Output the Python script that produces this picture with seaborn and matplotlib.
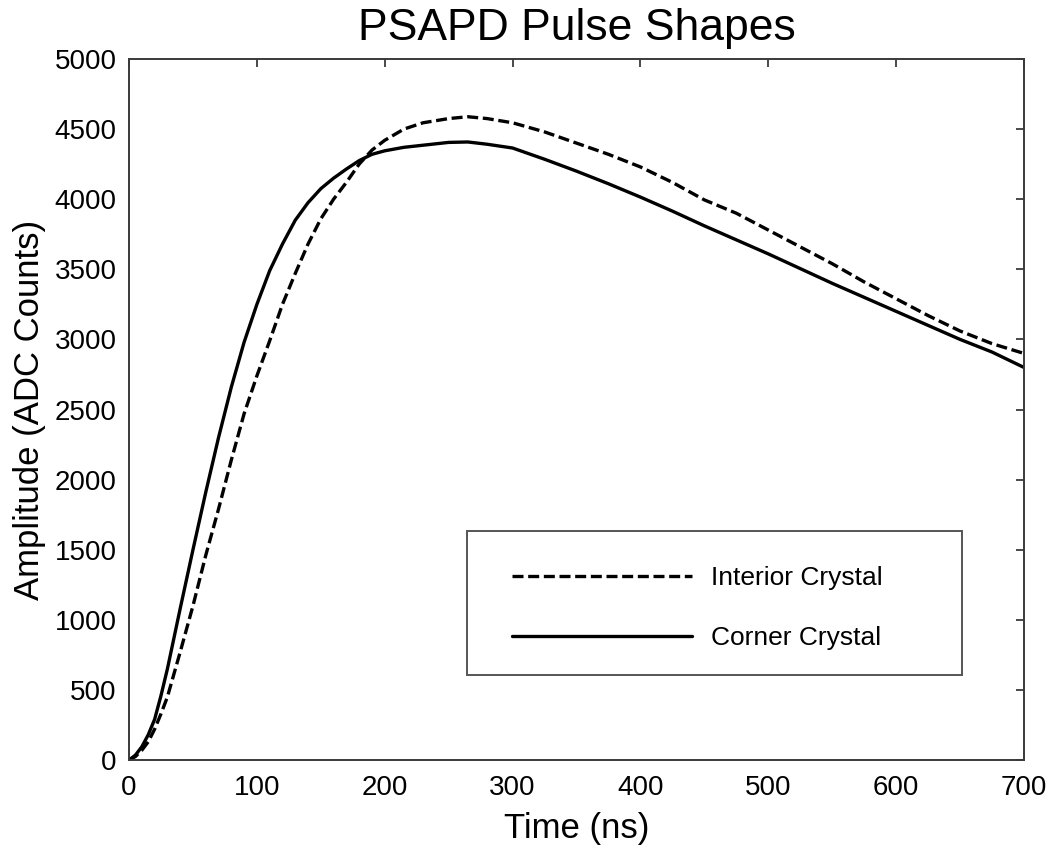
import matplotlib
matplotlib.use("Agg")
import matplotlib.pyplot as plt
from matplotlib.patches import Rectangle
import seaborn as sns
import pandas as pd

# ---- data ----
time_ns = [0, 5, 10, 15, 20, 25, 30, 40, 50, 60, 70, 80, 90, 100, 110, 120, 130,
           140, 150, 160, 170, 180, 190, 200, 215, 230, 250, 265, 280, 300, 325,
           350, 375, 400, 425, 450, 475, 500, 525, 550, 575, 600, 625, 650, 675, 700]

interior_crystal = [0, 25, 70, 130, 220, 330, 450, 770, 1100, 1460, 1790, 2140, 2470,
                    2740, 2990, 3250, 3470, 3680, 3860, 4000, 4120, 4250, 4350, 4420,
                    4500, 4545, 4575, 4588, 4575, 4545, 4480, 4400, 4320, 4230, 4120,
                    3995, 3900, 3780, 3660, 3540, 3410, 3290, 3170, 3060, 2970, 2900]

corner_crystal = [0, 35, 95, 180, 290, 460, 650, 1080, 1500, 1910, 2300, 2660, 2980,
                  3250, 3490, 3680, 3850, 3975, 4075, 4150, 4215, 4275, 4320, 4345,
                  4370, 4385, 4405, 4408, 4392, 4365, 4285, 4200, 4110, 4015, 3915,
                  3810, 3710, 3610, 3505, 3400, 3300, 3200, 3100, 3000, 2910, 2800]

series_labels = ["Interior Crystal", "Corner Crystal"]
x_ticks = [0, 100, 200, 300, 400, 500, 600, 700]
y_ticks = [0, 500, 1000, 1500, 2000, 2500, 3000, 3500, 4000, 4500, 5000]

df = pd.DataFrame({"time": time_ns,
                   "interior": interior_crystal,
                   "corner": corner_crystal})

sns.set_theme(style="white")
plt.rcParams["font.family"] = ["Liberation Sans", "DejaVu Sans"]
plt.rcParams["text.color"] = "black"

fig = plt.figure(figsize=(10.5, 8.56), dpi=100)
ax = fig.add_axes([0.1229, 0.1121, 0.8523, 0.8190])

sns.lineplot(data=df, x="time", y="interior", ax=ax, color="black", lw=2.4,
             linestyle=(0, (3.3, 1.4)), label=series_labels[0])
sns.lineplot(data=df, x="time", y="corner", ax=ax, color="black", lw=2.4,
             linestyle="-", label=series_labels[1])

ax.set_xlim(0, 700)
ax.set_ylim(0, 5000)
ax.set_xticks(x_ticks)
ax.set_yticks(y_ticks)
ax.set_xticklabels([str(v) for v in x_ticks])
ax.set_yticklabels([str(v) for v in y_ticks])

for sp in ax.spines.values():
    sp.set_visible(True)
    sp.set_color("#3a3a3a")
    sp.set_linewidth(1.4)

ax.tick_params(axis="both", which="major", direction="in", length=6, width=1.3,
               color="#3a3a3a", top=True, right=True, labelsize=20,
               labelcolor="black", pad=9)
ax.tick_params(axis="x", pad=11)

ax.set_xlabel("Time (ns)", fontsize=25, color="black", labelpad=8)
ax.set_ylabel("Amplitude (ADC Counts)", fontsize=25, color="black", labelpad=6)
ax.set_title("PSAPD Pulse Shapes", fontsize=32, color="black", pad=14)

# legend
leg = ax.legend(loc="center left", bbox_to_anchor=(0.428, 0.2167), frameon=False,
                fontsize=19, handlelength=6.8, handletextpad=0.72, borderpad=0,
                labelspacing=1.35, borderaxespad=0, labelcolor="black")
for line in leg.get_lines():
    line.set_linewidth(2.4)

ax.add_patch(Rectangle((0.3777, 0.1213), 0.5530, 0.2058, transform=ax.transAxes,
                       fill=False, edgecolor="#555555", linewidth=1.4, zorder=5))

fig.savefig("out.png", dpi=100)
